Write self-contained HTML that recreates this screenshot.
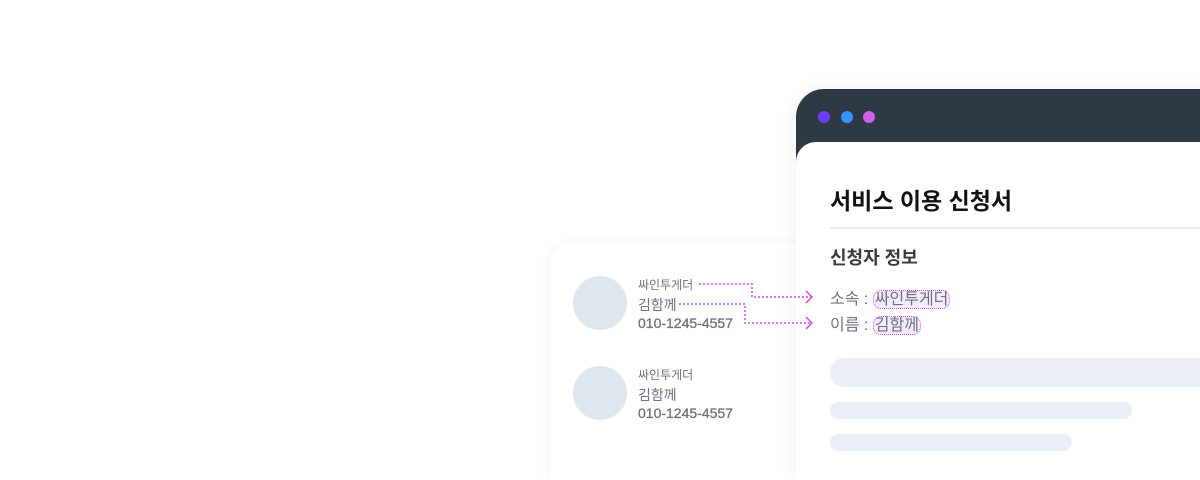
<!DOCTYPE html>
<html><head><meta charset="utf-8"><style>
html,body{margin:0;width:1200px;height:480px;overflow:hidden;background:#fff}
#w{position:relative;width:1200px;height:480px;overflow:hidden;font-family:"Liberation Sans","Noto Sans CJK KR",sans-serif}
.a{position:absolute}
.card{left:550px;top:243px;width:300px;height:237px;background:#fff;border-radius:22px 22px 0 0;box-shadow:0 0 14px rgba(0,0,0,0.05)}
.circ{width:54px;height:54px;border-radius:50%;background:#dfe6ee}
.t{color:#6b7280;white-space:nowrap}
.ph{font-size:14px;-webkit-text-stroke:0.3px #6b7280}
.win{left:796px;top:89px;width:404px;height:391px;background:#2f3943;border-radius:28px 0 0 0;box-shadow:0 0 20px rgba(0,0,0,0.06)}
.body{left:796px;top:142px;width:404px;height:338px;background:#fff;border-radius:20px 0 0 0}
.dot{width:12px;height:12px;border-radius:50%;top:111px}
.bar{background:#eaeff5}
.hl{border:1.5px dotted #d24cf0;background:#f6ebfb;border-radius:8px;padding:0 1px;color:#6b7280}
</style></head><body><div id="w">
<div class="a card"></div>
<div class="a circ" style="left:573px;top:276px"></div>
<div class="a circ" style="left:573px;top:366px"></div>
<div class="a t" style="left:638px;top:276px;font-size:12px">싸인투게더</div>
<div class="a t" style="left:638px;top:295px;font-size:14px">김함께</div>
<div class="a t ph" style="left:638px;top:315px">010-1245-4557</div>
<div class="a t" style="left:638px;top:366px;font-size:12px">싸인투게더</div>
<div class="a t" style="left:638px;top:385px;font-size:14px">김함께</div>
<div class="a t ph" style="left:638px;top:405px">010-1245-4557</div>
<div class="a win"></div>
<div class="a dot" style="left:818px;background:#6a3cff"></div>
<div class="a dot" style="left:841px;background:#3393ff"></div>
<div class="a dot" style="left:863px;background:#d062ea"></div>
<div class="a body"></div>
<div class="a" style="left:830px;top:182px;font-size:23px;font-weight:bold;color:#111">서비스 이용 신청서</div>
<div class="a" style="left:830px;top:227px;width:370px;height:2px;background:#ececec"></div>
<div class="a" style="left:830px;top:244px;font-size:18px;font-weight:bold;color:#333b44">신청자 정보</div>
<div class="a t" style="left:830px;top:285px;font-size:16px">소속 : <span class="hl">싸인투게더</span></div>
<div class="a t" style="left:830px;top:311px;font-size:16px">이름 : <span class="hl">김함께</span></div>
<div class="a bar" style="left:830px;top:358px;width:370px;height:29px;border-radius:14px 0 0 14px"></div>
<div class="a bar" style="left:830px;top:402px;width:302px;height:17px;border-radius:9px"></div>
<div class="a bar" style="left:830px;top:434px;width:242px;height:17px;border-radius:9px"></div>
<svg class="a" style="left:0;top:0" width="1200" height="480">
<g fill="none" stroke="#d24cf0" stroke-width="1.5" stroke-dasharray="2 2">
<path d="M699 284H752V297H812"/>
<path d="M679 304H745V323H812"/>
</g>
<g fill="none" stroke="#d24cf0" stroke-width="1.5">
<path d="M806 291L812 297L806 303"/>
<path d="M806 317L812 323L806 329"/>
</g>
</svg>
</div></body></html>
